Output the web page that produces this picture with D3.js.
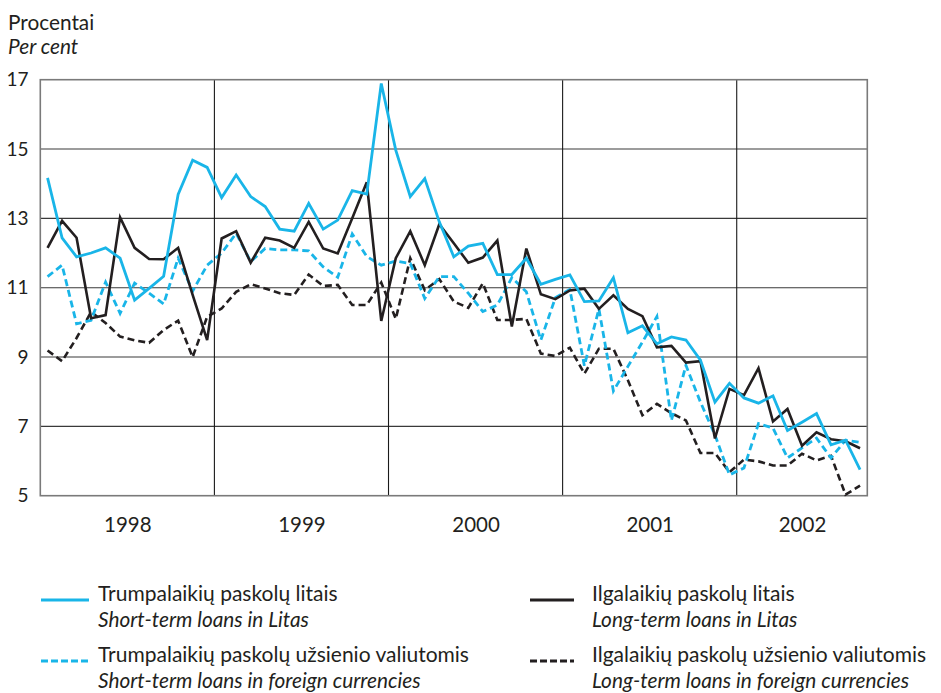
<!DOCTYPE html>
<html>
<head>
<meta charset="utf-8">
<script src="https://cdn.jsdelivr.net/npm/d3@7/dist/d3.min.js"></script>
<style>
  html, body { margin: 0; padding: 0; background: #fff; }
  svg { display: block; }
  text { font-family: Lato, "Open Sans", sans-serif; fill: #231f20; }
</style>
</head>
<body>
<svg id="chart" width="941" height="693"></svg>
<script>
// ---- data (monthly, Jan 1998 – Sep 2002) ----
const years = ["1998", "1999", "2000", "2001", "2002"];
const yTicks = [5, 7, 9, 11, 13, 15, 17];

const shortLitas = [
  14.17, 12.44, 11.89, 12.0, 12.15, 11.85, 10.64, 10.98, 11.33, 13.69, 14.68, 14.47,
  13.6, 14.25, 13.63, 13.34, 12.69, 12.63, 13.43, 12.69, 12.95, 13.8, 13.7, 16.89,
  14.97, 13.63, 14.15, 12.9, 11.89, 12.2, 12.28, 11.38, 11.38, 11.85, 11.1, 11.24,
  11.37, 10.6, 10.62, 11.29, 9.7, 9.9, 9.38, 9.58, 9.49, 8.91, 7.7, 8.24,
  7.82, 7.67, 7.88, 6.88, 7.12, 7.37, 6.47, 6.6, 5.75
];
const longLitas = [
  12.15, 12.93, 12.44, 10.12, 10.21, 13.03, 12.15, 11.83, 11.82, 12.15, 10.79, 9.49,
  12.42, 12.63, 11.72, 12.44, 12.36, 12.15, 12.9, 12.13, 11.99, 13.0, 14.04, 10.04,
  11.85, 12.63, 11.65, 12.83, 12.28, 11.72, 11.87, 12.36, 9.88, 12.13, 10.81, 10.67,
  10.92, 10.97, 10.39, 10.78, 10.39, 10.18, 9.28, 9.32, 8.84, 8.88, 6.65, 8.08,
  7.9, 8.68, 7.14, 7.5, 6.44, 6.83, 6.63, 6.57, 6.37
];
const shortForeign = [
  11.32, 11.65, 9.96, 10.06, 11.16, 10.26, 11.13, 10.84, 10.53, 11.85, 10.9, 11.65,
  12.0, 12.57, 11.75, 12.13, 12.09, 12.09, 12.06, 11.6, 11.3, 12.55, 11.9, 11.65,
  11.77, 11.7, 10.69, 11.32, 11.32, 10.84, 10.31, 10.5, 11.29, 10.88, 9.49, 10.71,
  10.95, 8.75, 10.39, 8.02, 8.73, 9.43, 10.17, 7.17, 8.76, 7.7, 6.75, 5.6,
  5.8, 7.08, 6.95, 6.09, 6.38, 6.66, 6.09, 6.6, 6.54
];
const longForeign = [
  9.19, 8.88, 9.55, 10.3, 9.98, 9.59, 9.48, 9.41, 9.78, 10.05, 9.0, 10.16,
  10.4, 10.88, 11.1, 10.98, 10.84, 10.79, 11.38, 11.05, 11.08, 10.5, 10.5, 11.15,
  10.1, 11.85, 10.93, 11.25, 10.6, 10.42, 11.13, 10.07, 10.07, 10.1, 9.1, 9.03,
  9.27, 8.52, 9.24, 9.24, 8.33, 7.32, 7.65, 7.38, 7.17, 6.23, 6.23, 5.68,
  6.04, 5.99, 5.87, 5.87, 6.21, 6.02, 6.15, 5.03, 5.29
];

const seriesLabels = [
  { lt: "Trumpalaikių paskolų litais", en: "Short-term loans in Litas" },
  { lt: "Trumpalaikių paskolų užsienio valiutomis", en: "Short-term loans in foreign currencies" },
  { lt: "Ilgalaikių paskolų litais", en: "Long-term loans in Litas" },
  { lt: "Ilgalaikių paskolų užsienio valiutomis", en: "Long-term loans in foreign currencies" }
];

// ---- drawing ----
const BLUE = "#19b5e8";
const BLACK = "#231f20";
const svg = d3.select("#chart");
const L = 40.3, R = 867.3, T = 79.7, B = 495.7;
const nMonths = shortLitas.length;
const x = d3.scaleLinear().domain([0, nMonths]).range([L, R]);
const y = d3.scaleLinear().domain([5, 17]).range([B, T]);

// horizontal gridlines
svg.append("g").selectAll("line").data(yTicks.slice(1, -1)).join("line")
  .attr("x1", L).attr("x2", R)
  .attr("y1", d => y(d)).attr("y2", d => y(d))
  .attr("stroke", "#3a3a3a").attr("stroke-width", 1.1);

// vertical year lines
svg.append("g").selectAll("line").data(years.slice(1)).join("line")
  .attr("x1", (d, i) => x(12 * (i + 1))).attr("x2", (d, i) => x(12 * (i + 1)))
  .attr("y1", T).attr("y2", B)
  .attr("stroke", "#1a1a1a").attr("stroke-width", 1.1);

// frame
svg.append("rect").attr("x", L).attr("y", T).attr("width", R - L).attr("height", B - T)
  .attr("fill", "none").attr("stroke", "#7a7a7a").attr("stroke-width", 1.6);

// y axis labels
const yAxis = d3.axisLeft(y).tickValues(yTicks).tickSize(0).tickPadding(0).tickFormat(d3.format("d"));
const gy = svg.append("g").attr("transform", "translate(28.5,0)").call(yAxis);
gy.select(".domain").remove();
gy.selectAll("text").style("font-size", "19px").style("font-family", "Lato, sans-serif").attr("fill", BLACK);

// x axis labels (year centred in its band)
const yearCenters = years.map((d, i) => Math.min(12 * i + 6, (12 * i + nMonths) / 2));
const xAxis = d3.axisBottom(x).tickValues(yearCenters).tickSize(0).tickPadding(0)
  .tickFormat((d, i) => years[i]);
const gx = svg.append("g").attr("transform", "translate(0,517)").call(xAxis);
gx.select(".domain").remove();
gx.selectAll("text").style("font-size", "20.5px").style("font-family", "Lato, sans-serif").attr("fill", BLACK);

// axis title
svg.append("text").attr("x", 8).attr("y", 30).style("font-size", "20.8px").text("Procentai");
svg.append("text").attr("x", 8).attr("y", 54).style("font-size", "20.8px").style("font-style", "italic").text("Per cent");

// lines
const line = d3.line().x((d, i) => x(i + 0.5)).y(d => y(d)).curve(d3.curveLinear);
const series = [
  { data: longForeign, color: BLACK, dash: "7,4", w: 2.6 },
  { data: shortForeign, color: BLUE, dash: "7,4", w: 2.8 },
  { data: longLitas, color: BLACK, dash: null, w: 2.6 },
  { data: shortLitas, color: BLUE, dash: null, w: 2.8 }
];
svg.append("g").selectAll("path").data(series).join("path")
  .attr("d", d => line(d.data))
  .attr("fill", "none")
  .attr("stroke", d => d.color)
  .attr("stroke-width", d => d.w)
  .attr("stroke-linejoin", "miter")
  .attr("stroke-dasharray", d => d.dash);

// legend
const legend = [
  { s: seriesLabels[0], color: BLUE, dash: null, lx: 41, len: 48, tx: 98, ly: 600 },
  { s: seriesLabels[1], color: BLUE, dash: "7,3", lx: 41, len: 48, tx: 98, ly: 661 },
  { s: seriesLabels[2], color: BLACK, dash: null, lx: 530, len: 44, tx: 592, ly: 600 },
  { s: seriesLabels[3], color: BLACK, dash: "7,3", lx: 530, len: 44, tx: 592, ly: 661 }
];
const lg = svg.append("g").selectAll("g").data(legend).join("g");
lg.append("line")
  .attr("x1", d => d.lx).attr("x2", d => d.lx + d.len)
  .attr("y1", d => d.ly).attr("y2", d => d.ly)
  .attr("stroke", d => d.color).attr("stroke-width", 3)
  .attr("stroke-dasharray", d => d.dash);
lg.append("text")
  .attr("x", d => d.tx).attr("y", d => d.ly + 1)
  .style("font-size", "21px").text(d => d.s.lt);
lg.append("text")
  .attr("x", d => d.tx).attr("y", d => d.ly + 26.5)
  .style("font-size", "20.8px").style("font-style", "italic").text(d => d.s.en);
</script>
</body>
</html>
